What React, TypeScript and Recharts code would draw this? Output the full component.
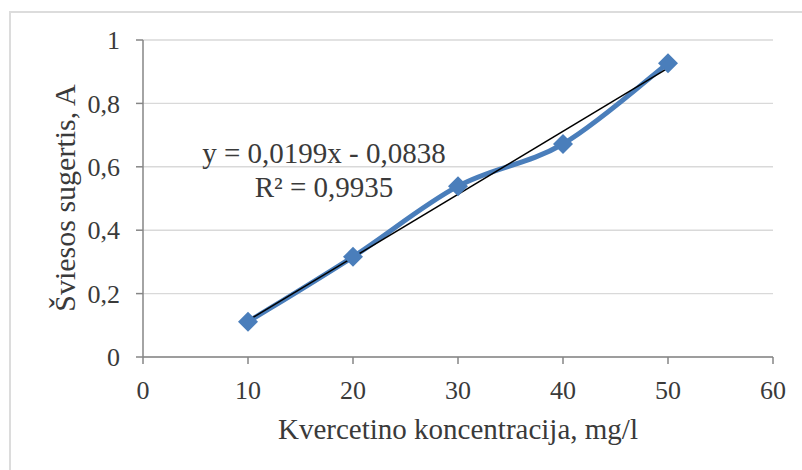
import React from 'react'
import { LineChart, Line, XAxis, YAxis, CartesianGrid, Label, Customized } from 'recharts'

const concentration = [10, 20, 30, 40, 50]
const absorbance = [0.111, 0.316, 0.539, 0.672, 0.927]
const xTicks = [0, 10, 20, 30, 40, 50, 60]
const yTicks = [0, 0.2, 0.4, 0.6, 0.8, 1]

// linear trendline as reported on the chart
const slope = 0.0199
const intercept = -0.0838
const rSquared = 0.9935

const points = concentration.map((x, i) => ({ x, a: absorbance[i] }))
const trendEnds = [concentration[0], concentration[concentration.length - 1]]
const trend = trendEnds.map((x) => ({ x, t: slope * x + intercept }))

const BLUE = '#4a7ebb'
const FONT = '"Liberation Serif", "Times New Roman", serif'
const TEXT = '#3a3a3a'

const fmt = (v: number) => String(v).replace('.', ',')

// Excel-style smoothed line: Catmull-Rom segments as cubic beziers
const smoothCurve = (context: any) => {
  let pts: [number, number][] = []
  return {
    areaStart() {},
    areaEnd() {},
    lineStart() {
      pts = []
    },
    point(x: number, y: number) {
      pts.push([+x, +y])
    },
    lineEnd() {
      if (!pts.length) return
      context.moveTo(pts[0][0], pts[0][1])
      for (let i = 0; i < pts.length - 1; i++) {
        const p0 = pts[Math.max(i - 1, 0)]
        const p1 = pts[i]
        const p2 = pts[i + 1]
        const p3 = pts[Math.min(i + 2, pts.length - 1)]
        context.bezierCurveTo(
          p1[0] + (p2[0] - p0[0]) / 6,
          p1[1] + (p2[1] - p0[1]) / 6,
          p2[0] - (p3[0] - p1[0]) / 6,
          p2[1] - (p3[1] - p1[1]) / 6,
          p2[0],
          p2[1]
        )
      }
    },
  }
}

const Diamond = (props: any) => {
  const { cx, cy, index } = props
  if (cx == null || cy == null) return <g key={index} />
  const r = 10
  return (
    <path
      key={index}
      d={`M${cx},${cy - r}L${cx + r},${cy}L${cx},${cy + r}L${cx - r},${cy}Z`}
      fill={BLUE}
    />
  )
}

const Annotations = () => (
  <g fontFamily={FONT} fill={TEXT}>
    <text x={75} y={198} fontSize={30} textAnchor="middle" transform="rotate(-90 75 198)">
      Šviesos sugertis, A
    </text>
    <text x={324} y={163} fontSize={29} textAnchor="middle">
      {`y = ${fmt(slope)}x - ${fmt(-intercept)}`}
    </text>
    <text x={324} y={197} fontSize={29} textAnchor="middle">
      {`R² = ${fmt(rSquared)}`}
    </text>
  </g>
)

export default function App() {
  return (
    <div style={{ position: 'relative', width: 802, height: 470, overflow: 'hidden', background: '#fff' }}>
      <style>{'body{margin:0}'}</style>
      <div
        style={{
          position: 'absolute',
          left: 9,
          top: 11,
          width: 900,
          height: 600,
          border: '2px solid #dcdcdc',
        }}
      />
      <div style={{ position: 'absolute', left: 0, top: 0 }}>
        <LineChart width={802} height={470} margin={{ top: 40, right: 29, bottom: 31, left: 83 }}>
          <CartesianGrid vertical={false} stroke="#d9d9d9" strokeWidth={1.4} />
          <XAxis
            type="number"
            dataKey="x"
            domain={[0, 60]}
            ticks={xTicks}
            height={82}
            tickSize={7}
            tickMargin={17}
            stroke="#868686"
            strokeWidth={1.5}
            tick={{ fill: TEXT, fontSize: 26, fontFamily: FONT }}
            allowDuplicatedCategory={false}
          >
            <Label
              value="Kvercetino koncentracija, mg/l"
              position="insideBottom"
              offset={0}
              style={{ fill: TEXT, fontSize: 29, fontFamily: FONT }}
            />
          </XAxis>
          <YAxis
            type="number"
            domain={[0, 1]}
            ticks={yTicks}
            width={60}
            tickSize={7}
            tickMargin={16}
            stroke="#868686"
            strokeWidth={1.5}
            tickFormatter={fmt}
            tick={{ fill: TEXT, fontSize: 26, fontFamily: FONT }}
          />
          <Line
            data={points}
            dataKey="a"
            type={smoothCurve as any}
            stroke={BLUE}
            strokeWidth={5}
            dot={Diamond}
            activeDot={false}
            isAnimationActive={false}
          />
          <Line
            data={trend}
            dataKey="t"
            type="linear"
            stroke="#000"
            strokeWidth={1.5}
            dot={false}
            activeDot={false}
            isAnimationActive={false}
          />
          <Customized component={<Annotations />} />
        </LineChart>
      </div>
    </div>
  )
}
